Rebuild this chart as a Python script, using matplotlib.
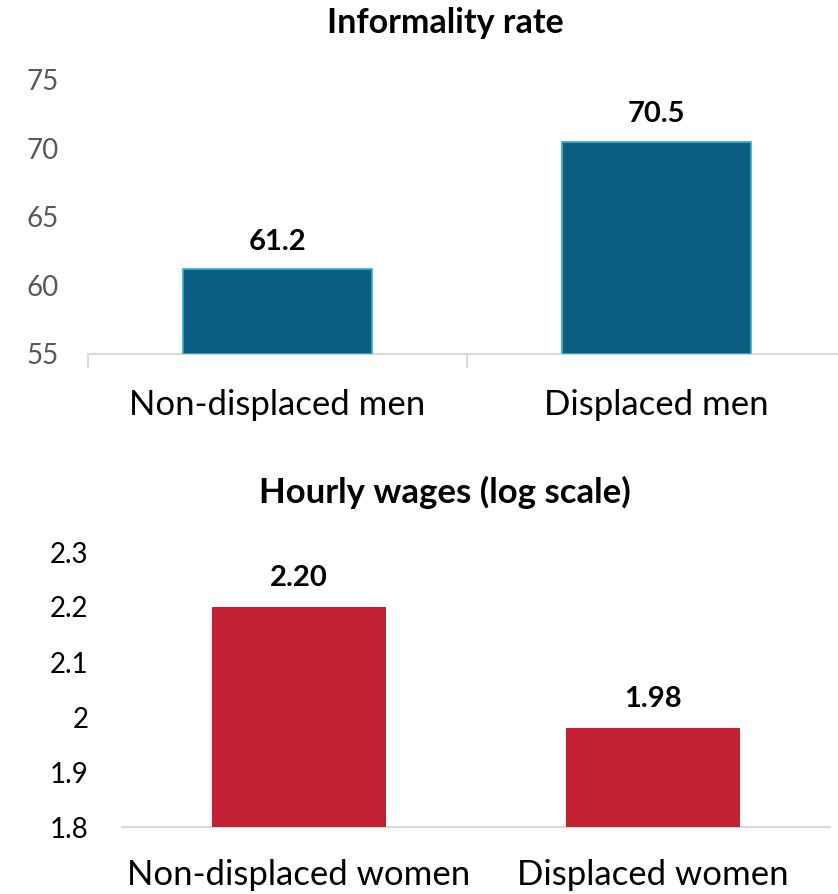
import matplotlib
matplotlib.use("Agg")
import matplotlib.pyplot as plt

plt.rcParams['font.family'] = ['Lato', 'DejaVu Sans']

# data
men_cats = ["Non-displaced men", "Displaced men"]
men_vals = [61.2, 70.5]
men_labels = ["61.2", "70.5"]
men_ticks = [55, 60, 65, 70, 75]

women_cats = ["Non-displaced women", "Displaced women"]
women_vals = [2.20, 1.98]
women_labels = ["2.20", "1.98"]
women_ticks = [1.8, 1.9, 2.0, 2.1, 2.2, 2.3]
women_ticklabels = ["1.8", "1.9", "2", "2.1", "2.2", "2.3"]

blue = "#0d5f82"
red = "#c42033"
spine_col = "#d9d9d9"

fig = plt.figure(figsize=(8.38, 8.94), dpi=100)

# ---- top panel ----
ax1 = fig.add_axes([88/838, 1 - 354/894, (846 - 88)/838, (354 - 80)/894])
x = range(len(men_cats))
ax1.bar(x, [v - 55 for v in men_vals], bottom=55, width=0.5, color=blue,
        edgecolor="#2bb3cf", linewidth=1.2, zorder=3)
ax1.set_xlim(-0.5, 1.5)
ax1.set_ylim(55, 75)
ax1.set_yticks(men_ticks)
ax1.set_yticklabels([str(t) for t in men_ticks], color="#595959", fontsize=20)
ax1.set_xticks(list(x))
ax1.set_xticklabels(men_cats, fontsize=25)
for lab in ax1.get_xticklabels():
    lab.set_va("baseline")
ax1.set_xticks([-0.5, 0.5, 1.5], minor=True)
ax1.tick_params(axis="x", which="major", length=0, pad=44)
ax1.tick_params(axis="x", which="minor", length=10, width=1.5, color=spine_col)
ax1.tick_params(axis="y", length=0, pad=21)
for s in ["top", "right", "left"]:
    ax1.spines[s].set_visible(False)
ax1.spines["bottom"].set_color(spine_col)
ax1.spines["bottom"].set_linewidth(1.5)
for xi, v, lab in zip(x, men_vals, men_labels):
    ax1.annotate(lab, (xi, v), xytext=(0, 14), textcoords="offset points",
                 ha="center", va="baseline", fontsize=21, fontweight="bold")
fig.text(445/838, 1 - 33/894, "Informality rate", ha="center", va="baseline",
         fontsize=24.5, fontweight="bold")

# ---- bottom panel ----
ax2 = fig.add_axes([122/838, 1 - 827/894, (830 - 122)/838, (827 - 552)/894])
x2 = range(len(women_cats))
ax2.bar(x2, [v - 1.8 for v in women_vals], bottom=1.8, width=0.49, color=red,
        zorder=3)
ax2.set_xlim(-0.5, 1.5)
ax2.set_ylim(1.8, 2.3)
ax2.set_yticks(women_ticks)
ax2.set_yticklabels(women_ticklabels, color="black", fontsize=20)
ax2.set_xticks(list(x2))
ax2.set_xticklabels(women_cats, fontsize=25)
for lab in ax2.get_xticklabels():
    lab.set_va("baseline")
ax2.tick_params(axis="x", length=0, pad=42)
ax2.tick_params(axis="y", length=0, pad=24)
for s in ["top", "right", "left"]:
    ax2.spines[s].set_visible(False)
ax2.spines["bottom"].set_color(spine_col)
ax2.spines["bottom"].set_linewidth(1.5)
for xi, v, lab in zip(x2, women_vals, women_labels):
    ax2.annotate(lab, (xi, v), xytext=(0, 15), textcoords="offset points",
                 ha="center", va="baseline", fontsize=21, fontweight="bold")
fig.text(445/838, 1 - 503/894, "Hourly wages (log scale)", ha="center",
         va="baseline", fontsize=25, fontweight="bold")

fig.savefig("out.png", dpi=100)
